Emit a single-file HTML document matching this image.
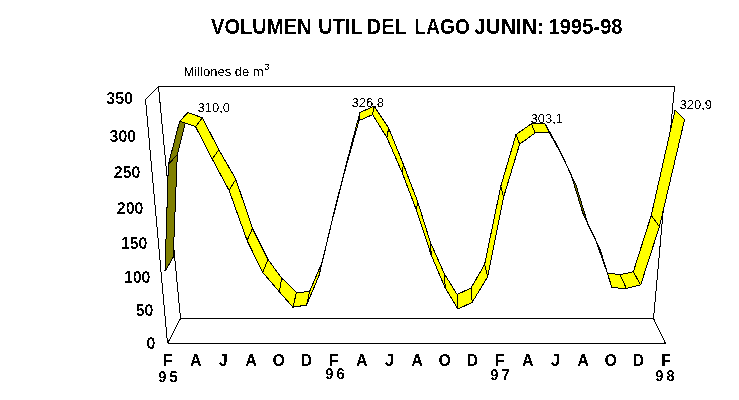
<!DOCTYPE html>
<html><head><meta charset="utf-8"><style>
html,body{margin:0;padding:0;background:#fff;}
body{width:739px;height:400px;overflow:hidden;position:relative;}
svg{position:absolute;left:0;top:0;will-change:transform;}
.ax{font-family:"Liberation Sans",Arial,sans-serif;font-weight:bold;font-size:16px;fill:#000;}
.yr{font-size:15.5px;letter-spacing:3.2px;text-rendering:geometricPrecision;}
.dl{font-family:"Liberation Sans",Arial,sans-serif;font-size:13px;fill:#000;}
.tt{font-family:"Liberation Sans",Arial,sans-serif;font-weight:bold;font-size:20px;fill:#000;letter-spacing:0.085px;}
</style></head><body>
<svg width="739" height="400" viewBox="0 0 739 400">
<defs><filter id="al" x="0" y="0" width="739" height="400" filterUnits="userSpaceOnUse"><feComponentTransfer><feFuncA type="discrete" tableValues="0 1"/></feComponentTransfer></filter><filter id="al2" x="0" y="0" width="739" height="400" filterUnits="userSpaceOnUse"><feComponentTransfer><feFuncA type="discrete" tableValues="0 0 0 1 1"/></feComponentTransfer></filter></defs>
<g filter="url(#al)">
<text transform="translate(211.00,33.6) scale(1.000,1.07)" x="0" y="0" class="tt">VOLUMEN</text><text transform="translate(318.30,33.6) scale(1.000,1.07)" x="0" y="0" class="tt">UTIL</text><text transform="translate(366.70,33.6) scale(1.000,1.07)" x="0" y="0" class="tt">DEL</text><text transform="translate(414.58,33.6) scale(0.950,1.07)" x="0" y="0" class="tt">LAGO</text><text transform="translate(474.16,33.6) scale(1.040,1.07)" x="0" y="0" class="tt">JUNIN:</text><text transform="translate(548.60,33.6) scale(1.000,1.07)" x="0" y="0" class="tt">1995-98</text>
<text x="183.5" y="76" class="dl">Millones de m<tspan dx="0.5" dy="-6.5" style="font-size:9.5px">3</tspan></text>
<g stroke="#000" stroke-width="1" fill="none" shape-rendering="crispEdges">
<line x1="158.5" y1="86.5" x2="674.5" y2="86.5"/>
<line x1="158.5" y1="86.5" x2="180.5" y2="318.5"/>
<line x1="674.5" y1="86.5" x2="653.5" y2="318.5"/>
<line x1="180.5" y1="318.5" x2="653.5" y2="318.5"/>
<line x1="167.5" y1="343.5" x2="665.5" y2="343.5"/>
<line x1="180.5" y1="318.5" x2="167.5" y2="343.5"/>
<line x1="653.5" y1="318.5" x2="665.5" y2="343.5"/>
<line x1="145.5" y1="99.5" x2="158.5" y2="86.5"/>
<line x1="145.5" y1="99.5" x2="167.5" y2="343.5"/>
</g>
<g stroke="#000" stroke-width="1" stroke-linejoin="bevel" shape-rendering="crispEdges">
<polygon points="164.99,271.40 168.36,164.52 177.32,154.48 173.24,257.06" fill="#808000"/>
<polygon points="168.36,164.52 179.67,121.11 187.96,112.69 177.32,154.48" fill="#808000"/>
<polygon points="179.67,121.11 195.56,126.69 202.27,117.68 187.96,112.69" fill="#ffff00"/>
<polygon points="195.56,126.69 212.30,159.11 218.80,149.59 202.27,117.68" fill="#ffff00"/>
<polygon points="212.30,159.11 229.08,190.43 235.85,179.28 218.80,149.59" fill="#ffff00"/>
<polygon points="229.08,190.43 247.10,240.54 252.52,228.47 235.85,179.28" fill="#ffff00"/>
<polygon points="247.10,240.54 262.65,272.30 268.02,259.62 252.52,228.47" fill="#ffff00"/>
<polygon points="262.65,272.30 279.26,291.73 281.73,278.05 268.02,259.62" fill="#ffff00"/>
<polygon points="279.26,291.73 292.88,307.23 296.46,292.58 281.73,278.05" fill="#ffff00"/>
<polygon points="292.88,307.23 306.63,305.02 309.58,291.62 296.46,292.58" fill="#ffff00"/>
<polygon points="306.63,305.02 319.14,275.24 322.12,262.11 309.58,291.62" fill="#ffff00"/>
<polygon points="319.14,275.24 331.49,223.42 334.14,211.66 322.12,262.11" fill="#ffff00"/>
<polygon points="331.49,223.42 344.42,172.74 346.71,162.39 334.14,211.66" fill="#ffff00"/>
<polygon points="344.42,172.74 358.95,120.64 359.85,112.68 346.71,162.39" fill="#ffff00"/>
<polygon points="358.95,120.64 372.59,114.63 374.06,105.97 359.85,112.68" fill="#ffff00"/>
<polygon points="372.59,114.63 386.89,137.64 388.66,128.06 374.06,105.97" fill="#ffff00"/>
<polygon points="386.89,137.64 402.20,172.68 403.34,164.22 388.66,128.06" fill="#ffff00"/>
<polygon points="402.20,172.68 416.52,210.51 417.51,201.17 403.34,164.22" fill="#ffff00"/>
<polygon points="659.44,226.65 684.58,119.67 675.02,110.07 651.25,215.37" fill="#ffff00"/>
<polygon points="640.68,284.88 659.44,226.65 651.25,215.37 633.33,271.82" fill="#ffff00"/>
<polygon points="626.35,288.50 640.68,284.88 633.33,271.82 620.08,274.68" fill="#ffff00"/>
<polygon points="611.87,287.68 626.35,288.50 620.08,274.68 607.34,273.08" fill="#ffff00"/>
<polygon points="600.73,251.12 611.87,287.68 607.34,273.08 595.02,238.63" fill="#808000"/>
<polygon points="588.25,225.00 600.73,251.12 595.02,238.63 582.88,213.21" fill="#ffff00"/>
<polygon points="576.25,185.86 588.25,225.00 582.88,213.21 571.18,175.15" fill="#808000"/>
<polygon points="563.26,157.65 576.25,185.86 571.18,175.15 558.56,147.73" fill="#808000"/>
<polygon points="549.09,132.14 563.26,157.65 558.56,147.73 544.65,123.08" fill="#ffff00"/>
<polygon points="535.16,132.98 549.09,132.14 544.65,123.08 531.41,123.71" fill="#ffff00"/>
<polygon points="519.64,144.19 535.16,132.98 531.41,123.71 516.00,134.55" fill="#ffff00"/>
<polygon points="503.59,197.19 519.64,144.19 516.00,134.55 500.83,186.16" fill="#ffff00"/>
<polygon points="487.70,276.70 503.59,197.19 500.83,186.16 484.64,264.31" fill="#ffff00"/>
<polygon points="472.20,302.30 487.70,276.70 484.64,264.31 471.03,288.09" fill="#ffff00"/>
<polygon points="458.05,309.08 472.20,302.30 471.03,288.09 457.12,294.42" fill="#ffff00"/>
<polygon points="445.18,287.95 458.05,309.08 457.12,294.42 444.65,274.30" fill="#ffff00"/>
<polygon points="431.22,255.09 445.18,287.95 444.65,274.30 430.60,242.89" fill="#ffff00"/>
<polygon points="416.52,210.51 431.22,255.09 430.60,242.89 417.51,201.17" fill="#ffff00"/>
</g>
<g filter="url(#al2)">
<text x="133.0" y="103.8" text-anchor="end" class="ax">350</text><text x="136.2" y="142.0" text-anchor="end" class="ax">300</text><text x="140.5" y="177.5" text-anchor="end" class="ax">250</text><text x="143.5" y="213.8" text-anchor="end" class="ax">200</text><text x="147.5" y="249.0" text-anchor="end" class="ax">150</text><text x="150.5" y="283.0" text-anchor="end" class="ax">100</text><text x="153.5" y="316.0" text-anchor="end" class="ax">50</text><text x="155.5" y="349.0" text-anchor="end" class="ax">0</text>
</g>
<text x="168.0" y="365.5" text-anchor="middle" class="ax">F</text><text x="195.7" y="365.5" text-anchor="middle" class="ax">A</text><text x="223.3" y="365.5" text-anchor="middle" class="ax">J</text><text x="251.0" y="365.5" text-anchor="middle" class="ax">A</text><text x="278.7" y="365.5" text-anchor="middle" class="ax">O</text><text x="306.4" y="365.5" text-anchor="middle" class="ax">D</text><text x="334.0" y="365.5" text-anchor="middle" class="ax">F</text><text x="361.7" y="365.5" text-anchor="middle" class="ax">A</text><text x="389.4" y="365.5" text-anchor="middle" class="ax">J</text><text x="417.0" y="365.5" text-anchor="middle" class="ax">A</text><text x="444.7" y="365.5" text-anchor="middle" class="ax">O</text><text x="472.4" y="365.5" text-anchor="middle" class="ax">D</text><text x="500.0" y="365.5" text-anchor="middle" class="ax">F</text><text x="527.7" y="365.5" text-anchor="middle" class="ax">A</text><text x="555.4" y="365.5" text-anchor="middle" class="ax">J</text><text x="583.0" y="365.5" text-anchor="middle" class="ax">A</text><text x="610.7" y="365.5" text-anchor="middle" class="ax">O</text><text x="638.4" y="365.5" text-anchor="middle" class="ax">D</text><text x="666.1" y="365.5" text-anchor="middle" class="ax">F</text>
<text transform="translate(169.4,381.6) scale(0.95,1)" x="0" y="0" text-anchor="middle" class="ax yr">95</text><text transform="translate(336.5,378.6) scale(0.95,1)" x="0" y="0" text-anchor="middle" class="ax yr">96</text><text transform="translate(501.5,379.6) scale(0.95,1)" x="0" y="0" text-anchor="middle" class="ax yr">97</text><text transform="translate(666.5,380.9) scale(0.95,1)" x="0" y="0" text-anchor="middle" class="ax yr">98</text>
<text x="197.5" y="111.6" class="dl">310,0</text>
<text x="351.5" y="107.3" class="dl">326,8</text>
<text x="530.5" y="122.9" class="dl">303,1</text>
<text x="679.5" y="108.6" class="dl">320,9</text>
</g>
</svg>
</body></html>
